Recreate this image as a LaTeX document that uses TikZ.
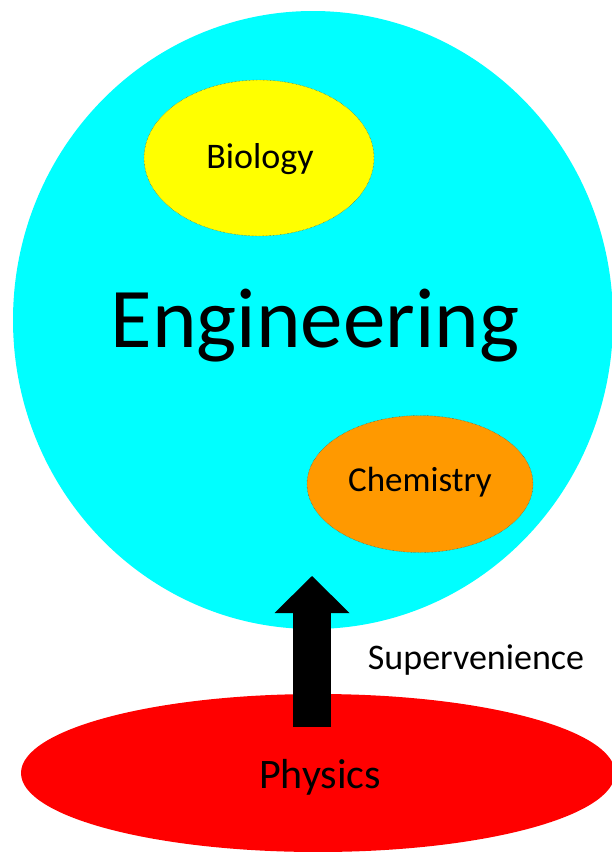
\documentclass[tikz,border=0pt]{standalone}
\usepackage{fontspec}
\setmainfont{Carlito}
\usepackage{tikz}
\usetikzlibrary{arrows.meta, shapes.geometric}
\definecolor{engcyan}{RGB}{0,255,255}
\definecolor{bioyellow}{RGB}{255,255,0}
\definecolor{chemorange}{RGB}{255,153,0}
\definecolor{physred}{RGB}{255,0,0}

\begin{document}
\begin{tikzpicture}[x=1pt, y=-1pt,
  field/.style={ellipse, inner sep=0pt},
  subfield/.style={field, draw=black!75, densely dotted, thin}]
  \useasboundingbox (0,0) rectangle (612,852);
  % Physics at the bottom
  \node[field, fill=physred, minimum width=594pt, minimum height=158pt] (phys) at (318,773) {};
  \node[anchor=base, font=\fontsize{42}{42}\selectfont] (physlbl) at (320,788) {Physics};
  % Engineering
  \node[field, fill=engcyan, minimum width=600pt, minimum height=618pt] (eng) at (313,320) {};
  \node[anchor=base, font=\fontsize{85}{85}\selectfont] (englbl) at (315,347) {Engineering};
  % Biology
  \node[subfield, fill=bioyellow, minimum width=230pt, minimum height=156pt] (bio) at (259,158) {};
  \node[anchor=base, font=\fontsize{36}{36}\selectfont] (biolbl) at (260,168) {Biology};
  % Chemistry
  \node[subfield, fill=chemorange, minimum width=226pt, minimum height=137pt] (chem) at (420,484) {};
  \node[anchor=base, font=\fontsize{35}{35}\selectfont] (chemlbl) at (420,491) {Chemistry};
  % Arrow from physics up into engineering
  \coordinate (arrbase) at (312,727);
  \coordinate (arrtip) at (312,576);
  \draw[line width=38pt, -{Triangle[length=37pt, width=75pt, line width=0pt]}] (arrbase) -- (arrtip);
  \node[anchor=base, font=\fontsize{36}{36}\selectfont] (superv) at (476,669) {Supervenience};
\end{tikzpicture}
\end{document}
